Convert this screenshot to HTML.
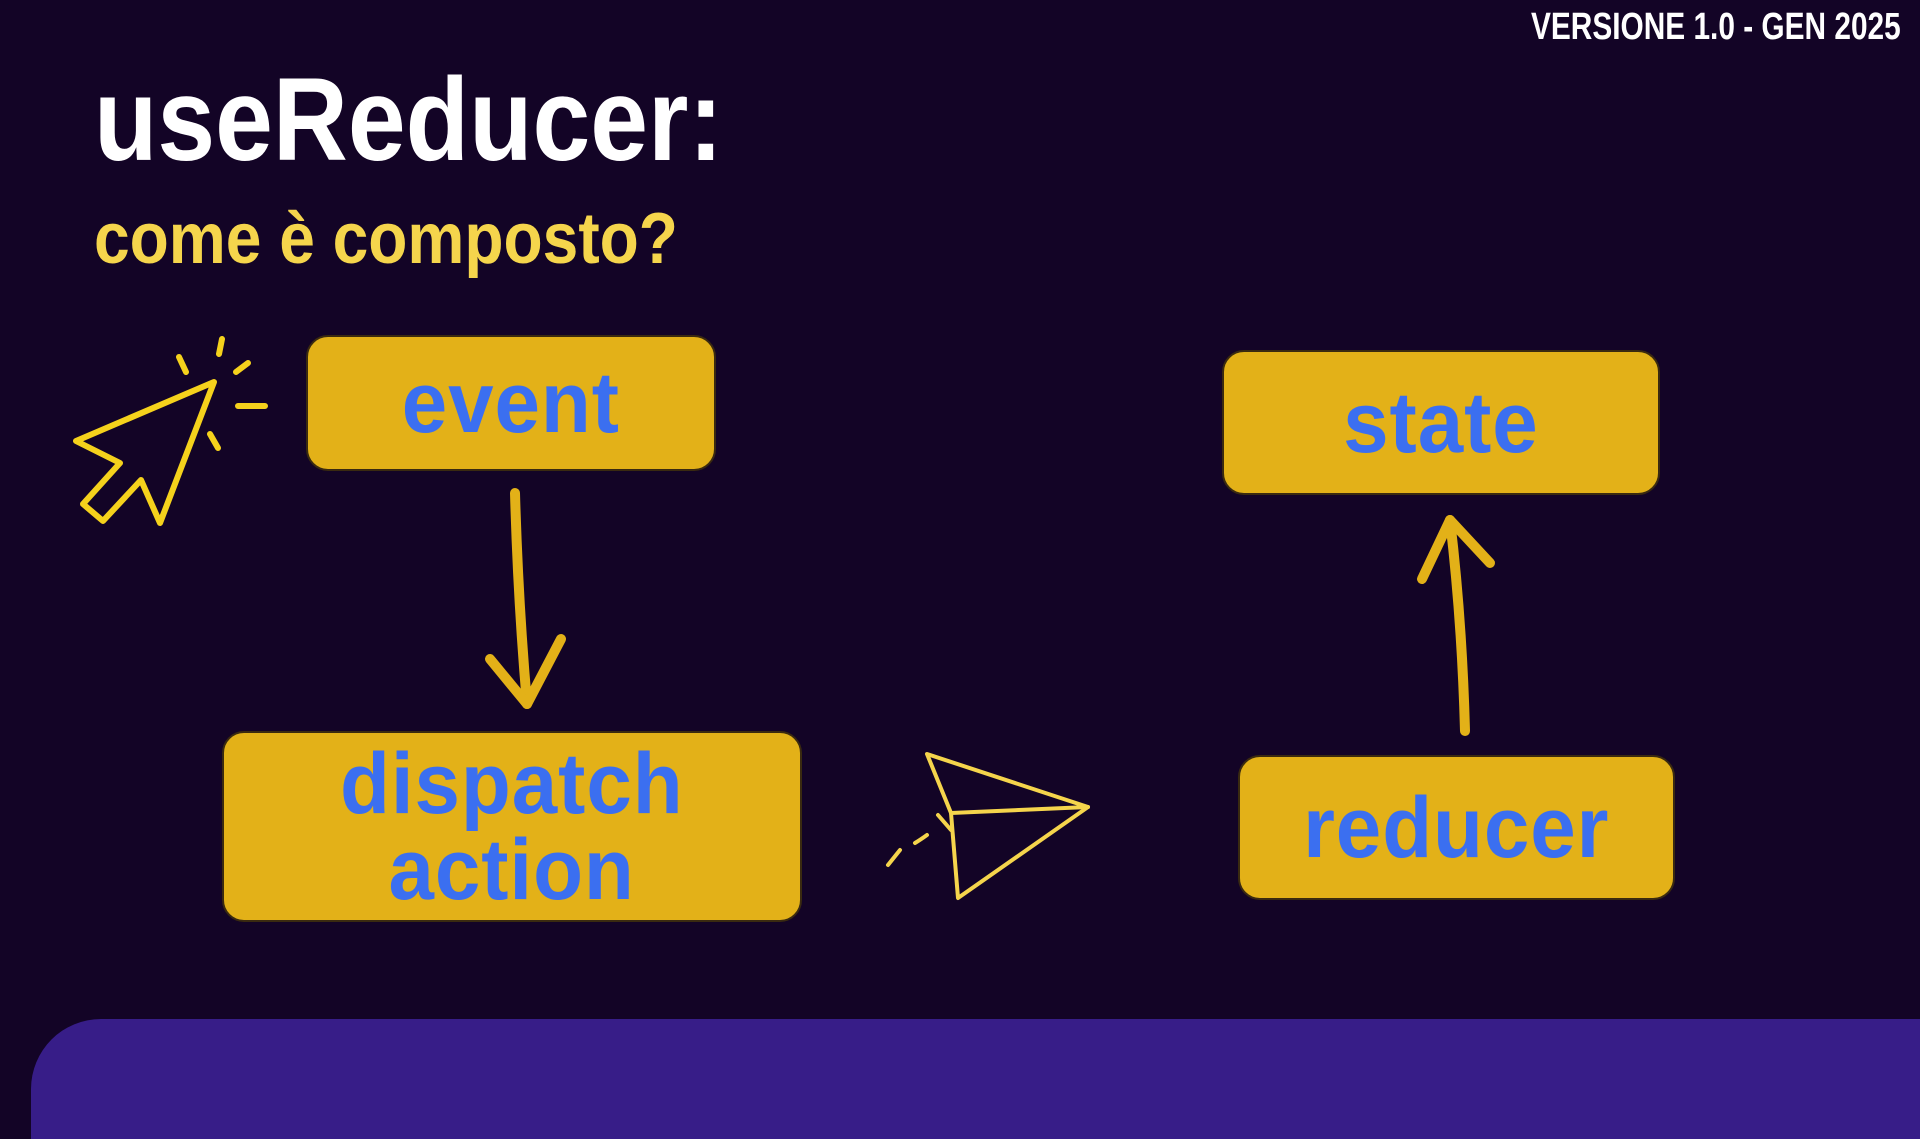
<!DOCTYPE html>
<html><head><meta charset="utf-8"><style>
html,body{margin:0;padding:0}
body{width:1920px;height:1080px;background:#130426;position:relative;overflow:hidden;font-family:"Liberation Sans",sans-serif}
.t{position:absolute;font-weight:bold;white-space:nowrap;transform-origin:0 0}
.box{position:absolute;background:#e3b118;border-radius:22px;border:2px solid #3a2a10;box-sizing:border-box;display:flex;align-items:center;justify-content:center;flex-direction:column}
.box span{color:#3b6ff0;font-weight:bold;font-size:86px;transform:scaleX(0.95);display:block;line-height:86px;letter-spacing:1px}
</style></head><body>
<div class="t" style="left:1531px;top:6px;font-size:38px;color:#fff;transform:scaleX(0.785)">VERSIONE 1.0 - GEN 2025</div>
<div class="t" style="left:94px;top:52px;font-size:118px;color:#fff;transform:scaleX(0.88)">useReducer:</div>
<div class="t" style="left:94px;top:198px;font-size:72px;color:#f5d54c;transform:scaleX(0.89)">come è composto?</div>

<div class="box" style="left:306px;top:335px;width:410px;height:136px"><span>event</span></div>
<div class="box" style="left:1222px;top:350px;width:438px;height:145px"><span>state</span></div>
<div class="box" style="left:222px;top:731px;width:580px;height:191px"><span>dispatch</span><span>action</span></div>
<div class="box" style="left:1238px;top:755px;width:437px;height:145px"><span>reducer</span></div>

<svg width="1920" height="1080" style="position:absolute;left:0;top:0" fill="none" stroke-linecap="round" stroke-linejoin="round">
<g stroke="#e3b118" stroke-width="10">
<path d="M515 493 Q518 600 527 704"/>
<path d="M490 659 L527 704 L561 639"/>
<path d="M1465 731 Q1462 620 1450 520"/>
<path d="M1422 579 L1450 520 L1490 563"/>
</g>
<g stroke="#f5d21c" stroke-width="6">
<path d="M214 382 L76 441 L120 463 L83 504 L103 521 L141 480 L160 523 Z"/>
<path d="M179 357 L186 372 M222 339 L219 354 M236 372 L248 363 M238 406 L265 406 M210 434 L218 448"/>
</g>
<g stroke="#f5d54c" stroke-width="4">
<path d="M927 754 L1088 807 L958 898 L951 813 Z"/>
<path d="M951 813 L1088 807"/>
<path d="M938 815 L951 830 M927 835 Q920 840 915 843 M900 850 L888 865"/>
</g>
</svg>
<div style="position:absolute;left:31px;top:1019px;width:1950px;height:120px;background:#371d88;border-radius:70px 0 0 0"></div>
</body></html>
